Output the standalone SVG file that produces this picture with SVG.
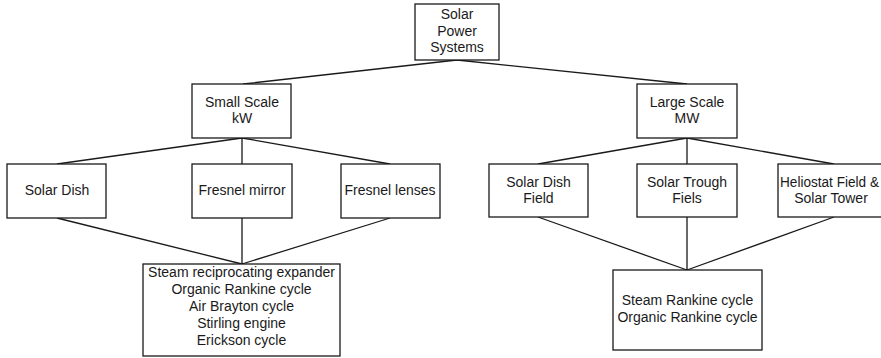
<svg xmlns="http://www.w3.org/2000/svg" width="881" height="358" viewBox="0 0 881 358">
<style>
.box{fill:#fff;stroke:#1a1a1a;stroke-width:1.3}
.ln{fill:none;stroke:#1a1a1a;stroke-width:1.3}
text{font-family:"Liberation Sans",Arial,Helvetica,sans-serif;font-size:14px;fill:#1a1a1a;text-anchor:middle}
</style>
<rect width="881" height="358" fill="#fff"/>
<g id="connectors">
<path class="ln" d="M457 60L243 84M457 60L687 84"/>
<path class="ln" d="M242 138L57 164M242 138L242 164M242 138L390 164"/>
<path class="ln" d="M687 138L538 164M687 138L687 164M687 138L834 164"/>
<path class="ln" d="M57 218L242 264M242 218L242 264M390 218L242 264"/>
<path class="ln" d="M538 217L687 270M687 217L687 270M834 217L687 270"/>
</g>
<g id="root"><rect class="box" x="415" y="4" width="84" height="56"/><text x="457" y="19">Solar</text><text x="457" y="36">Power</text><text x="457" y="52">Systems</text></g>
<g id="small"><rect class="box" x="192" y="84" width="99" height="54"/><text x="242" y="107">Small Scale</text><text x="242" y="123">kW</text></g>
<g id="large"><rect class="box" x="637" y="84" width="100" height="54"/><text x="687" y="107">Large Scale</text><text x="687" y="123">MW</text></g>
<g id="dish"><rect class="box" x="7" y="164" width="99" height="54"/><text x="57" y="195">Solar Dish</text></g>
<g id="mirror"><rect class="box" x="192" y="164" width="100" height="54"/><text x="242" y="195">Fresnel mirror</text></g>
<g id="lenses"><rect class="box" x="341" y="164" width="99" height="54"/><text x="390" y="195">Fresnel lenses</text></g>
<g id="dishfield"><rect class="box" x="489" y="164" width="99" height="53"/><text x="538.5" y="187">Solar Dish</text><text x="538.5" y="203">Field</text></g>
<g id="trough"><rect class="box" x="637" y="164" width="100" height="53"/><text x="687" y="187">Solar Trough</text><text x="687" y="203">Fiels</text></g>
<g id="helio"><rect class="box" x="778" y="164" width="110" height="53"/><text x="829.5" y="187" textLength="99" lengthAdjust="spacingAndGlyphs">Heliostat Field &amp;</text><text x="831" y="203">Solar Tower</text></g>
<g id="smallcycles"><rect class="box" x="143" y="264" width="197" height="92"/><text x="241.5" y="277">Steam reciprocating expander</text><text x="241.5" y="294">Organic Rankine cycle</text><text x="241.5" y="311">Air Brayton cycle</text><text x="241.5" y="328">Stirling engine</text><text x="241.5" y="345">Erickson cycle</text></g>
<g id="largecycles"><rect class="box" x="613" y="270" width="149" height="80"/><text x="687.5" y="305">Steam Rankine cycle</text><text x="687.5" y="322">Organic Rankine cycle</text></g>
</svg>
